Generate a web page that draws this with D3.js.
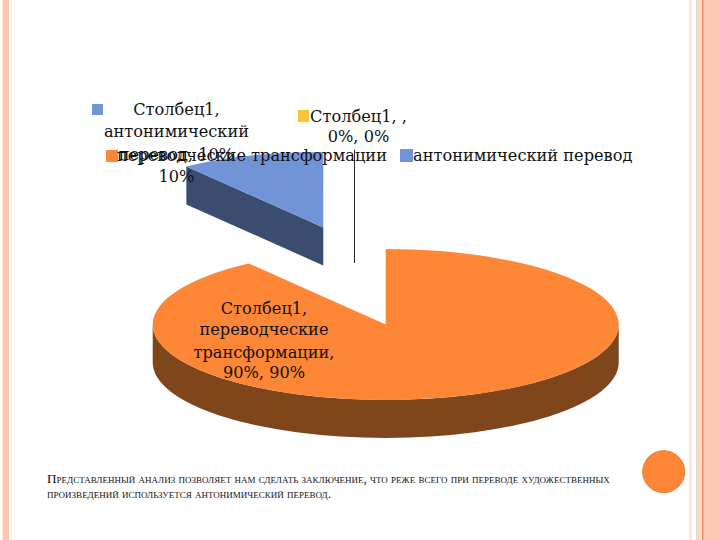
<!DOCTYPE html>
<html lang="ru">
<head>
    <meta charset="UTF-8">
    <title>Столбец1</title>
    <script src="https://d3js.org/d3.v7.min.js"></script>
    <style>
        html, body { margin: 0; padding: 0; background: #fff; }
        svg { display: block; }
        text { font-family: 'DejaVu Serif', serif; fill: #111; }
    </style>
</head>
<body>
<script>
    const width = 720;
    const height = 540;

    const categories = ['переводческие трансформации', 'антонимический перевод', ''];
    const values = [90, 10, 0];
    const topColors = ['#fd8637', '#7094d6', '#fac23a'];
    const wallColors = ['#7f461c', '#3a4d70', '#3a2028'];

    const legendNames = ['переводческие трансформации', 'антонимический перевод'];
    const blueLabel = ['Столбец1,', 'антонимический', 'перевод, 10%', '10%'];
    const orangeLabel = ['Столбец1,', 'переводческие', 'трансформации,', '90%, 90%'];
    const zeroLabel = ['Столбец1, ,', '0%, 0%'];
    const noteLines = [
        'Представленный анализ позволяет нам сделать заключение, что реже всего при переводе художественных',
        'произведений используется антонимический перевод.'
    ];

    const leftBands = [[2, 1, '#fde6dc'], [3, 6, '#fdc5ae'], [11, 1, '#f6eef6'], [14, 1, '#fdf8e4']];
    const rightBands = [[689, 3, '#f8ecdf'], [696, 3, '#ecd8c6'], [699, 3, '#fbdccb'], [702, 18, '#fec8b4'], [702, 1.5, '#f08a60']];

    const svg = d3.select('body').append('svg').attr('width', width).attr('height', height);

    // page frame
    svg.selectAll('rect.band')
        .data(leftBands.concat(rightBands))
        .enter()
        .append('rect')
        .attr('class', 'band')
        .attr('x', d => d[0])
        .attr('y', 0)
        .attr('width', d => d[1])
        .attr('height', height)
        .attr('fill', d => d[2]);

    // pie, 3d look: flat ellipse + extruded walls
    const cx = 354.5, cy = 276;
    const rx = 233, ry = 75.5, depth = 38;
    const explodeX = 101, explodeY = 51;

    const pie = d3.pie().sort(null).startAngle(0).endAngle(2 * Math.PI);
    const slices = pie(values);

    const px = (a, c) => c.x + rx * Math.sin(a);
    const py = (a, c) => c.y - ry * Math.cos(a);

    slices.forEach(d => {
        const mid = (d.startAngle + d.endAngle) / 2;
        d.c = {x: cx + explodeX * Math.sin(mid), y: cy - explodeY * Math.cos(mid)};
    });

    function topPath(d) {
        const c = d.c;
        const large = d.endAngle - d.startAngle > Math.PI ? 1 : 0;
        return `M${c.x},${c.y}L${px(d.startAngle, c)},${py(d.startAngle, c)}` +
            `A${rx},${ry} 0 ${large} 1 ${px(d.endAngle, c)},${py(d.endAngle, c)}Z`;
    }

    // visible part of the outer wall is the front half of the ellipse
    function wallPath(d) {
        const a0 = Math.max(d.startAngle, Math.PI / 2);
        const a1 = Math.min(d.endAngle, 3 * Math.PI / 2);
        if (a1 <= a0) return null;
        const c = d.c;
        return `M${px(a0, c)},${py(a0, c)}A${rx},${ry} 0 0 1 ${px(a1, c)},${py(a1, c)}` +
            `L${px(a1, c)},${py(a1, c) + depth}A${rx},${ry} 0 0 0 ${px(a0, c)},${py(a0, c) + depth}Z`;
    }

    // cut face at the start of a slice, it looks to the viewer when the slice starts in the back left
    function facePath(d) {
        const a = d.startAngle;
        if (a <= 3 * Math.PI / 2 || d.endAngle === d.startAngle) return null;
        const c = d.c;
        return `M${c.x},${c.y}L${px(a, c)},${py(a, c)}L${px(a, c)},${py(a, c) + depth}L${c.x},${c.y + depth}Z`;
    }

    const chart = svg.append('g');
    const zero = slices.filter(d => d.value === 0);
    const drawn = slices.filter(d => d.value > 0);

    chart.selectAll('path.wall')
        .data(drawn.filter(wallPath))
        .enter()
        .append('path')
        .attr('class', 'wall')
        .attr('d', wallPath)
        .attr('fill', d => wallColors[d.index]);

    chart.selectAll('path.face')
        .data(drawn.filter(facePath))
        .enter()
        .append('path')
        .attr('class', 'face')
        .attr('d', facePath)
        .attr('fill', d => wallColors[d.index]);

    chart.selectAll('path.top')
        .data(drawn)
        .enter()
        .append('path')
        .attr('class', 'top')
        .attr('d', topPath)
        .attr('fill', d => topColors[d.index]);

    // the 0% slice is only a thin line
    chart.selectAll('line.zero')
        .data(zero)
        .enter()
        .append('line')
        .attr('class', 'zero')
        .attr('x1', d => d.c.x)
        .attr('x2', d => d.c.x)
        .attr('y1', d => d.c.y - ry)
        .attr('y2', d => d.c.y + depth)
        .attr('stroke', d => wallColors[d.index])
        .attr('stroke-width', 1);

    // data labels and legend
    const labelSize = 16.2;

    function block(lines, x, ys) {
        svg.append('g').selectAll('text')
            .data(lines)
            .enter()
            .append('text')
            .attr('x', x)
            .attr('y', (d, i) => ys[i])
            .attr('text-anchor', 'middle')
            .attr('font-size', labelSize)
            .text(d => d);
    }

    block(blueLabel, 176.5, [115, 137, 160, 181.5]);
    block(zeroLabel, 358.5, [122, 142]);
    block(orangeLabel, 264, [313.5, 335, 357.5, 378]);

    const swatches = [
        {x: 92, y: 104, w: 11, h: 11, color: topColors[1]},
        {x: 298, y: 110, w: 11, h: 12, color: topColors[2]},
        {x: 106, y: 150, w: 12, h: 12, color: topColors[0]},
        {x: 400, y: 149, w: 13, h: 13, color: topColors[1]}
    ];
    svg.selectAll('rect.swatch')
        .data(swatches)
        .enter()
        .append('rect')
        .attr('class', 'swatch')
        .attr('x', d => d.x)
        .attr('y', d => d.y)
        .attr('width', d => d.w)
        .attr('height', d => d.h)
        .attr('fill', d => d.color);

    svg.append('g').selectAll('text')
        .data(legendNames)
        .enter()
        .append('text')
        .attr('x', (d, i) => [117, 413][i])
        .attr('y', 161)
        .attr('font-size', labelSize)
        .text(d => d);

    // orange dot, bottom right
    svg.append('circle')
        .attr('cx', 663.7)
        .attr('cy', 471.7)
        .attr('r', 21)
        .attr('fill', '#fd8637')
        .attr('stroke', '#e0803f')
        .attr('stroke-width', 1);

    // note under the chart
    svg.append('g').selectAll('text')
        .data(noteLines)
        .enter()
        .append('text')
        .attr('x', 47)
        .attr('y', (d, i) => 483 + i * 14.5)
        .attr('font-size', 13.18)
        .style('font-family', "'Liberation Serif', serif")
        .style('font-variant', 'small-caps')
        .text(d => d);
</script>
</body>
</html>
